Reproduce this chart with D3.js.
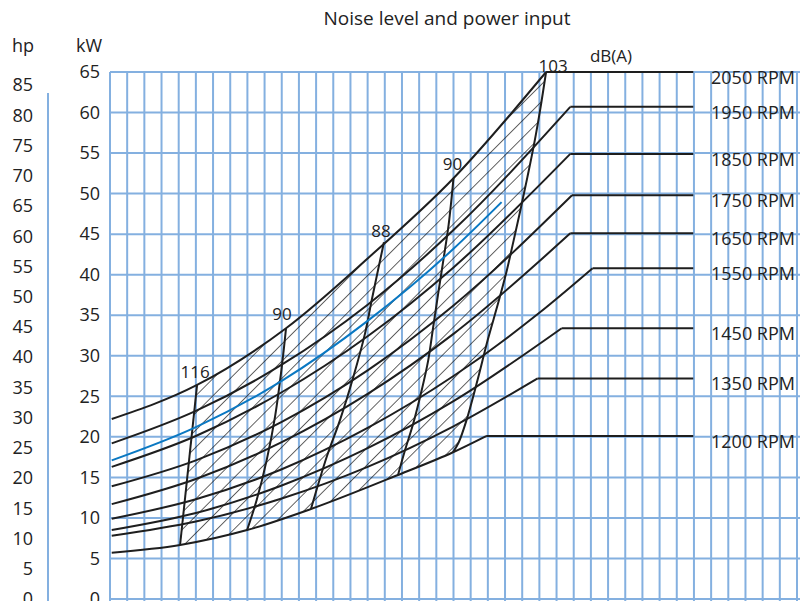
<!DOCTYPE html>
<html>
<head>
<meta charset="utf-8">
<script src="https://cdn.jsdelivr.net/npm/d3@7"></script>
<style>
  body { margin: 0; background: #fff; }
  text { font-family: "Open Sans", sans-serif; fill: #222; }
</style>
</head>
<body>
<div id="chart"></div>
<script>
// values (x in grid columns, y in kW)
const kwTicks = [0, 5, 10, 15, 20, 25, 30, 35, 40, 45, 50, 55, 60, 65]
const hpTicks = [0, 5, 10, 15, 20, 25, 30, 35, 40, 45, 50, 55, 60, 65, 70, 75, 80, 85]
const rpmLabels = ["2050 RPM", "1950 RPM", "1850 RPM", "1750 RPM", "1650 RPM", "1550 RPM", "1450 RPM", "1350 RPM", "1200 RPM"]

const curve2050 = [[0.1, 22.2], [5.07, 26.4], [10.25, 33.4], [15, 42.0], [20, 51.9], [25.39, 65.0]]
const curve1950 = [[0.1, 19.2], [5, 23.2], [10, 28.9], [15, 36.3], [20, 45.5], [26.8, 60.7]]
const curve1850 = [[0.1, 16.3], [5, 20.1], [10, 25.5], [15, 32.4], [20, 40.9], [26.8, 54.9]]
const curve1750 = [[0.1, 13.9], [5, 17.1], [10, 21.85], [15, 28.2], [20, 36.2], [26.9, 49.8]]
const curve1650 = [[0.1, 11.7], [5, 14.8], [10, 19.35], [15, 25.3], [20, 32.7], [26.8, 45.1]]
const curve1550 = [[0.1, 9.9], [5, 12.3], [10, 16.0], [15, 21.1], [20, 27.5], [25, 35.3], [28.1, 40.8]]
const curve1450 = [[0.1, 8.5], [5, 10.6], [10, 14.0], [15, 18.6], [20, 24.4], [26.3, 33.4]]
const curve1350 = [[0.1, 7.8], [5, 9.55], [10, 12.4], [15, 16.3], [20, 21.3], [24.9, 27.2]]
const curve1200 = [[0.1, 5.7], [4.08, 6.66], [7.98, 8.5], [11.7, 11.1], [16.77, 15.3], [19.97, 18.1], [21.9, 20.1]]
const flatEnd = 33.96

const blueCurve = [[0.1, 17.1], [5, 21.2], [10, 26.9], [15, 34.3], [20, 43.2], [22.8, 48.95]]

// noise lines, bottom (on 1200 RPM) to top (on 2050 RPM)
const noiseLabels = ["116", "90", "88", "90", "103"]
const noise116 = [[4.08, 6.66], [5.07, 26.4]]
const noise90a = [[7.98, 8.5], [8.54, 12.2], [9.12, 17.1], [9.61, 22.5], [10.0, 28.6], [10.25, 33.4]]
const noise88 = [[11.7, 11.1], [12.62, 17.55], [13.39, 22.07], [14.17, 27.41], [14.85, 32.76], [15.24, 36.87], [15.95, 44.0]]
const noise90b = [[16.77, 15.3], [17.18, 18.37], [17.66, 21.67], [18.15, 25.77], [18.53, 29.47], [18.82, 33.58], [19.11, 37.69], [19.41, 41.8], [19.72, 46.2], [20.0, 51.9]]
const noise103 = [[19.97, 18.1], [20.3, 19.3], [20.75, 22.0], [21.4, 27.0], [22.0, 32.0], [22.6, 36.5], [23.1, 40.5], [23.5, 44.2], [23.9, 48.0], [24.3, 52.0], [24.7, 56.2], [25.05, 60.4], [25.39, 65.0]]

const rpmCurves = [curve2050, curve1950, curve1850, curve1750, curve1650, curve1550, curve1450, curve1350, curve1200]
const noiseLines = [noise116, noise90a, noise88, noise90b, noise103]

const W = 800
const H = 601
const GRID = "#84b0e0"
const INK = "#1e1e1e"
const BLUE = "#0a78c2"
const KW_PER_HP = 0.7457

const x = d3.scaleLinear().domain([0, 40]).range([110, 797])
const y = d3.scaleLinear().domain([0, 65]).range([599, 72])

const svg = d3.select("#chart").append("svg")
    .attr("width", W)
    .attr("height", H)

// hatch pattern, lines at 45 degrees, one per grid column horizontally
const defs = svg.append("defs")
defs.append("pattern")
    .attr("id", "hatch")
    .attr("patternUnits", "userSpaceOnUse")
    .attr("width", (x(1) - x(0)) / Math.SQRT2)
    .attr("height", 10)
    .attr("patternTransform", "translate(" + x(0) + ",0) rotate(45)")
    .append("line")
    .attr("x1", 0).attr("y1", 0).attr("x2", 0).attr("y2", 10)
    .attr("stroke", "#111")
    .attr("stroke-width", 1.3)

// grid
const grid = svg.append("g")
grid.selectAll("line.v").data(d3.range(0, 41)).join("line")
    .attr("class", "v")
    .attr("x1", d => x(d)).attr("x2", d => x(d))
    .attr("y1", y(65)).attr("y2", H)
    .attr("stroke", GRID).attr("stroke-width", 2)
grid.selectAll("line.h").data(kwTicks).join("line")
    .attr("class", "h")
    .attr("x1", x(0)).attr("x2", W)
    .attr("y1", d => y(d)).attr("y2", d => y(d))
    .attr("stroke", GRID).attr("stroke-width", 2)

// kW axis
const kwAxis = svg.append("g")
    .attr("transform", "translate(" + x(0) + ",0)")
    .call(d3.axisLeft(y).tickValues(kwTicks).tickSize(0).tickPadding(10))
kwAxis.select(".domain").remove()
kwAxis.selectAll("text").style("font-size", "18px").style("font-family", "Open Sans").attr("fill", "#222")

// hp axis, same kW scale with ticks at whole hp
const hpAxis = svg.append("g")
    .attr("transform", "translate(48,0)")
    .call(d3.axisLeft(y).tickValues(hpTicks.map(d => d * KW_PER_HP))
        .tickFormat(d => Math.round(d / KW_PER_HP)).tickSize(0).tickPadding(15))
hpAxis.select(".domain").remove()
hpAxis.selectAll("text").style("font-size", "18px").style("font-family", "Open Sans").attr("fill", "#222")
svg.append("line")
    .attr("x1", 48).attr("x2", 48)
    .attr("y1", 93).attr("y2", H)
    .attr("stroke", GRID).attr("stroke-width", 2)

svg.append("text").attr("x", 23).attr("y", 52).attr("text-anchor", "middle")
    .style("font-size", "18px").text("hp")
svg.append("text").attr("x", 89).attr("y", 52).attr("text-anchor", "middle")
    .style("font-size", "18px").text("kW")
svg.append("text").attr("x", 447).attr("y", 25).attr("text-anchor", "middle")
    .style("font-size", "19px").text("Noise level and power input")
svg.append("text").attr("x", 611).attr("y", 62).attr("text-anchor", "middle")
    .style("font-size", "17px").text("dB(A)")

const hatchLayer = svg.append("g")
const lineLayer = svg.append("g")

const curveLine = d3.line().x(d => x(d[0])).y(d => y(d[1])).curve(d3.curveMonotoneX)
const noiseLine = d3.line().x(d => x(d[0])).y(d => y(d[1])).curve(d3.curveCatmullRom)

// noise lines
const noisePaths = lineLayer.selectAll("path.noise").data(noiseLines).join("path")
    .attr("class", "noise")
    .attr("d", noiseLine)
    .attr("fill", "none")
    .attr("stroke", INK)
    .attr("stroke-width", 2)

// rpm curves with their flat part after the kink
const rpmPaths = lineLayer.selectAll("path.rpm").data(rpmCurves).join("path")
    .attr("class", "rpm")
    .attr("d", curveLine)
    .attr("fill", "none")
    .attr("stroke", INK)
    .attr("stroke-width", 2)
lineLayer.selectAll("line.flat").data(rpmCurves).join("line")
    .attr("class", "flat")
    .attr("x1", d => x(d[d.length - 1][0]))
    .attr("x2", x(flatEnd))
    .attr("y1", d => y(d[d.length - 1][1]))
    .attr("y2", d => y(d[d.length - 1][1]))
    .attr("stroke", INK)
    .attr("stroke-width", 2)

lineLayer.append("path")
    .attr("d", curveLine(blueCurve))
    .attr("fill", "none")
    .attr("stroke", BLUE)
    .attr("stroke-width", 2)

// rpm labels
svg.selectAll("text.rpm").data(rpmCurves).join("text")
    .attr("class", "rpm")
    .attr("x", 795)
    .attr("y", d => y(d[d.length - 1][1]) + 12)
    .attr("text-anchor", "end")
    .style("font-size", "18px")
    .text((d, i) => rpmLabels[i])

// noise labels next to the top of each line
const labelShift = [[-2, -7], [-4, -8], [-3, -5], [-1, -8], [7, 0]]
svg.selectAll("text.noise").data(noiseLines).join("text")
    .attr("class", "noise")
    .attr("x", (d, i) => x(d[d.length - 1][0]) + labelShift[i][0])
    .attr("y", (d, i) => y(d[d.length - 1][1]) + labelShift[i][1])
    .attr("text-anchor", "middle")
    .style("font-size", "17px")
    .text((d, i) => noiseLabels[i])

// hatched area between 1200 and 2050 RPM, from the 116 line to the 103 line
function samplePath(node, n) {
    const len = node.getTotalLength()
    return d3.range(n + 1).map(i => {
        const p = node.getPointAtLength(len * i / n)
        return [p.x, p.y]
    })
}
const nodes = rpmPaths.nodes()
const nNodes = noisePaths.nodes()
const leftLine = noise116, rightLine = noise103
const bottomEdge = samplePath(nodes[8], 400)
    .filter(p => p[0] >= x(leftLine[0][0]) && p[0] <= x(rightLine[0][0]))
const topEdge = samplePath(nodes[0], 400)
    .filter(p => p[0] >= x(leftLine[leftLine.length - 1][0]) && p[0] <= x(rightLine[rightLine.length - 1][0]))
    .reverse()
const rightSide = samplePath(nNodes[4], 200)
const leftSide = samplePath(nNodes[0], 50).reverse()
const region = bottomEdge.concat(rightSide, topEdge, leftSide)
hatchLayer.append("path")
    .attr("d", "M" + region.map(p => p.join(",")).join("L") + "Z")
    .attr("fill", "url(#hatch)")
</script>
</body>
</html>
